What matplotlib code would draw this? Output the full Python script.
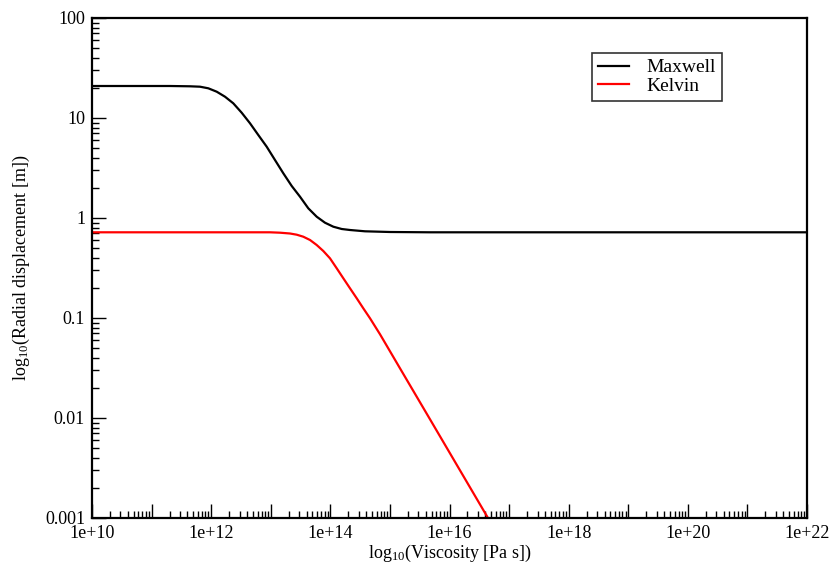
import math
import numpy as np
import matplotlib
matplotlib.use("Agg")
import matplotlib.pyplot as plt
from matplotlib.ticker import LogLocator, FixedLocator, FuncFormatter, NullFormatter

plt.rcParams['font.family'] = ['Liberation Serif', 'DejaVu Serif']
plt.rcParams['mathtext.default'] = 'regular'

# Maxwell model: log10 viscosity [Pa s] and log10 radial displacement [m]
maxwell_log_visc = [10.000, 11.309, 11.645, 11.813, 11.952, 12.093, 12.232, 12.371,
                    12.512, 12.652, 12.791, 12.932, 13.071, 13.211, 13.352, 13.491,
                    13.630, 13.771, 13.910, 14.050, 14.191, 14.330, 14.582, 15.001,
                    15.673, 22.000]
maxwell_log_disp = [1.320, 1.320, 1.317, 1.313, 1.297, 1.263, 1.213, 1.147,
                    1.053, 0.947, 0.830, 0.713, 0.580, 0.447, 0.320, 0.213,
                    0.097, 0.013, -0.047, -0.087, -0.110, -0.120, -0.133, -0.140,
                    -0.143, -0.143]

# Kelvin model
kelvin_log_visc = [10.000, 12.652, 12.987, 13.155, 13.323, 13.436, 13.546, 13.659,
                   13.771, 13.882, 13.994, 14.107, 14.218, 14.330, 14.443, 14.553,
                   14.666, 14.834, 15.169, 15.673, 16.646, 22.000]
kelvin_log_disp = [-0.143, -0.143, -0.143, -0.147, -0.155, -0.167, -0.187, -0.220,
                   -0.270, -0.330, -0.403, -0.503, -0.603, -0.703, -0.803, -0.903,
                   -1.003, -1.163, -1.503, -2.013, -3.000, -8.354]

xlabel = r'log$_{10}$(Viscosity [Pa s])'
ylabel = r'log$_{10}$(Radial displacement [m])'

fig = plt.figure(figsize=(8.34, 5.72), dpi=100)
ax = fig.add_axes([92/834, 1-518/572, (807-92)/834, (518-18)/572])

ax.plot(np.power(10.0, maxwell_log_visc), np.power(10.0, maxwell_log_disp),
        color='black', lw=1.6, label='Maxwell', solid_joinstyle='round')
ax.plot(np.power(10.0, kelvin_log_visc), np.power(10.0, kelvin_log_disp),
        color='red', lw=1.6, label='Kelvin', solid_joinstyle='round')

ax.set_xscale('log')
ax.set_yscale('log')
ax.set_xlim(1e10, 1e22)
ax.set_ylim(1e-3, 100)

ax.xaxis.set_major_locator(FixedLocator([10.0**e for e in range(10, 23)]))
ax.xaxis.set_minor_locator(LogLocator(base=10, subs=range(2, 10), numticks=100))
ax.xaxis.set_major_formatter(FuncFormatter(
    lambda v, p: ('1e+%d' % round(math.log10(v))) if round(math.log10(v)) % 2 == 0 else ''))
ax.xaxis.set_minor_formatter(NullFormatter())

ylabels = {-3: '0.001', -2: '0.01', -1: '0.1', 0: '1', 1: '10', 2: '100'}
ax.yaxis.set_major_locator(FixedLocator([10.0**e for e in range(-3, 3)]))
ax.yaxis.set_minor_locator(LogLocator(base=10, subs=range(2, 10), numticks=100))
ax.yaxis.set_major_formatter(FuncFormatter(lambda v, p: ylabels.get(round(math.log10(v)), '')))
ax.yaxis.set_minor_formatter(NullFormatter())

ax.tick_params(which='both', direction='in', top=False, right=False, labelsize=13, pad=5)
ax.tick_params(which='major', length=10, width=1.0)
ax.tick_params(which='minor', length=5, width=1.0)

for s in ax.spines.values():
    s.set_linewidth(1.6)

ax.set_xlabel(xlabel, fontsize=13, labelpad=1)
ax.set_ylabel(ylabel, fontsize=13, labelpad=9)

leg = ax.legend(loc='upper left', bbox_to_anchor=((592-92)/715, 1-(53-18)/500),
                fontsize=14, frameon=True, fancybox=False, edgecolor='black',
                handlelength=1.6, handletextpad=0.9, borderpad=0.3, labelspacing=0.05,
                borderaxespad=0)
leg.get_frame().set_linewidth(1.2)

fig.savefig('out.png', dpi=100)
